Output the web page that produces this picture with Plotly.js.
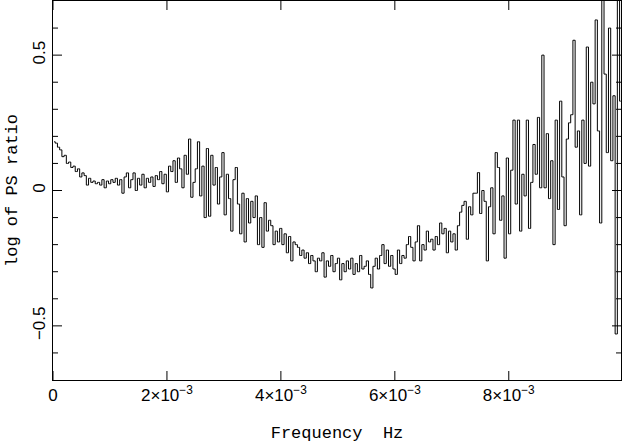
<!DOCTYPE html>
<html><head><meta charset="utf-8">
<script src="https://cdn.plot.ly/plotly-3.0.1.min.js"></script>
<style>html,body{margin:0;padding:0;background:#fff}</style>
</head><body><div id="chart" style="width:622px;height:443px"></div>
<script>
const binWidth = 3.9e-5; // Hz, frequency bin width
const logRatio = [
 0.18, 0.175, 0.16, 0.15, 0.125, 0.13, 0.10, 0.105, 0.085, 0.09,
 0.07, 0.08, 0.05, 0.065, 0.055, 0.02, 0.045, 0.03, 0.035, 0.025,
 0.03, 0.02, 0.04, 0.01, 0.035, 0.025, 0.04, 0.03, 0.045, 0.02,
 0.04, -0.01, 0.05, 0.065, 0.01, 0.04, 0.065, 0.0, 0.045, 0.02,
 0.06, 0.01, 0.045, 0.03, 0.05, 0.015, 0.055, 0.04, 0.07, 0.025,
 0.06, -0.005, 0.09, 0.07, 0.11, 0.03, 0.12, 0.08, 0.01, 0.13,
 0.06, 0.19, -0.025, 0.03, 0.08, 0.18, -0.02, 0.09, -0.1, 0.155,
 -0.095, 0.13, 0.02, 0.085, -0.05, 0.05, 0.14, -0.09, 0.06, -0.03,
 -0.15, 0.04, 0.085, -0.05, -0.16, -0.01, -0.19, -0.03, -0.12, -0.04,
 -0.1, -0.02, -0.2, -0.1, -0.21, -0.045, -0.15, -0.11, -0.13, -0.2,
 -0.15, -0.19, -0.14, -0.2, -0.16, -0.23, -0.17, -0.26, -0.19, -0.2,
 -0.21, -0.24, -0.22, -0.25, -0.23, -0.27, -0.24, -0.26, -0.3, -0.25,
 -0.26, -0.23, -0.32, -0.26, -0.28, -0.24, -0.3, -0.27, -0.25, -0.33,
 -0.27, -0.3, -0.26, -0.29, -0.25, -0.31, -0.27, -0.3, -0.24, -0.29,
 -0.28, -0.26, -0.31, -0.36, -0.28, -0.25, -0.29, -0.24, -0.2, -0.27,
 -0.22, -0.28, -0.24, -0.29, -0.31, -0.22, -0.27, -0.24, -0.25, -0.2,
 -0.17, -0.21, -0.26, -0.19, -0.13, -0.26, -0.2, -0.22, -0.15, -0.19,
 -0.18, -0.22, -0.17, -0.2, -0.12, -0.16, -0.14, -0.23, -0.15, -0.19,
 -0.16, -0.22, -0.13, -0.08, -0.055, -0.04, -0.18, -0.06, -0.09, -0.01,
 -0.01, 0.066, -0.085, 0.0, -0.04, -0.26, -0.06, 0.01, -0.16, 0.14,
 0.085, -0.11, -0.02, -0.25, 0.12, -0.16, 0.075, 0.26, -0.05, 0.26,
 -0.15, 0.06, -0.02, 0.26, -0.14, 0.03, 0.17, 0.06, 0.27, 0.01,
 0.5, 0.01, 0.21, -0.03, 0.11, -0.2, 0.26, -0.07, 0.33, 0.05,
 -0.13, 0.19, 0.25, 0.28, 0.555, 0.16, 0.22, -0.09, 0.26, 0.1,
 0.53, 0.09, 0.4, 0.32, 0.63, 0.22, -0.12, 0.75, 0.43, 0.14,
 0.6, 0.11, 0.35, -0.53, 0.75, 0.33
];
const freq = logRatio.map((_, i) => (i + 0.5) * binWidth);
const xTickVals = [0, 0.002, 0.004, 0.006, 0.008];
const xTickText = ['0', '2×10<sup>−3</sup>', '4×10<sup>−3</sup>', '6×10<sup>−3</sup>', '8×10<sup>−3</sup>'];
const yMajorVals = [-0.5, 0, 0.5];
const yMinorVals = [-0.6, -0.4, -0.3, -0.2, -0.1, 0.1, 0.2, 0.3, 0.4, 0.6];
const yRange = [-0.7, 0.7];

const W = 622, H = 443, M = {l: 53, r: 1, t: 1, b: 63};
const plotW = W - M.l - M.r, plotH = H - M.t - M.b;
const majorLen = 9, minorLen = 5;

// tick marks drawn on all four sides (PGPLOT-style frame)
const tickStyle = {color: '#000', width: 1};
const shapes = [];
xTickVals.forEach(v => {
  shapes.push({type: 'line', xref: 'x', yref: 'paper', x0: v, x1: v, y0: 0, y1: majorLen / plotH, line: tickStyle, layer: 'above'});
  shapes.push({type: 'line', xref: 'x', yref: 'paper', x0: v, x1: v, y0: 1, y1: 1 - majorLen / plotH, line: tickStyle, layer: 'above'});
});
[[yMajorVals, majorLen], [yMinorVals, minorLen]].forEach(([vals, len]) => {
  vals.forEach(v => {
    shapes.push({type: 'line', xref: 'paper', yref: 'y', y0: v, y1: v, x0: 0, x1: len / plotW, line: tickStyle, layer: 'above'});
    shapes.push({type: 'line', xref: 'paper', yref: 'y', y0: v, y1: v, x0: 1, x1: 1 - len / plotW, line: tickStyle, layer: 'above'});
  });
});

const trace = {
  x: freq, y: logRatio, type: 'scatter', mode: 'lines',
  line: {shape: 'hvh', color: '#000', width: 1},
  hoverinfo: 'skip'
};
const tickFont = {family: 'Liberation Sans, Arial, sans-serif', size: 17, color: '#000'};
const titleFont = {family: 'Liberation Mono, Courier New, monospace', size: 17, color: '#000'};
const layout = {
  width: W, height: H,
  margin: M,
  paper_bgcolor: '#fff', plot_bgcolor: '#fff',
  showlegend: false,
  shapes: shapes,
  xaxis: {
    range: [0, 0.00997],
    tickmode: 'array', tickvals: xTickVals, ticktext: xTickText,
    ticks: '', 
    showline: true, linecolor: '#000', linewidth: 1, mirror: true,
    showgrid: false, zeroline: false,
    tickfont: tickFont,
    title: {text: 'Frequency  Hz', font: titleFont, standoff: 22}
  },
  yaxis: {
    range: yRange,
    tickmode: 'array', tickvals: yMajorVals,
    ticks: '',
    showline: true, linecolor: '#000', linewidth: 1, mirror: true,
    showgrid: false, zeroline: false,
    tickangle: -90,
    tickfont: tickFont,
    title: {text: 'log of PS ratio', font: titleFont, standoff: 8}
  }
};
Plotly.newPlot('chart', [trace], layout, {displayModeBar: false});
</script>
</body></html>
